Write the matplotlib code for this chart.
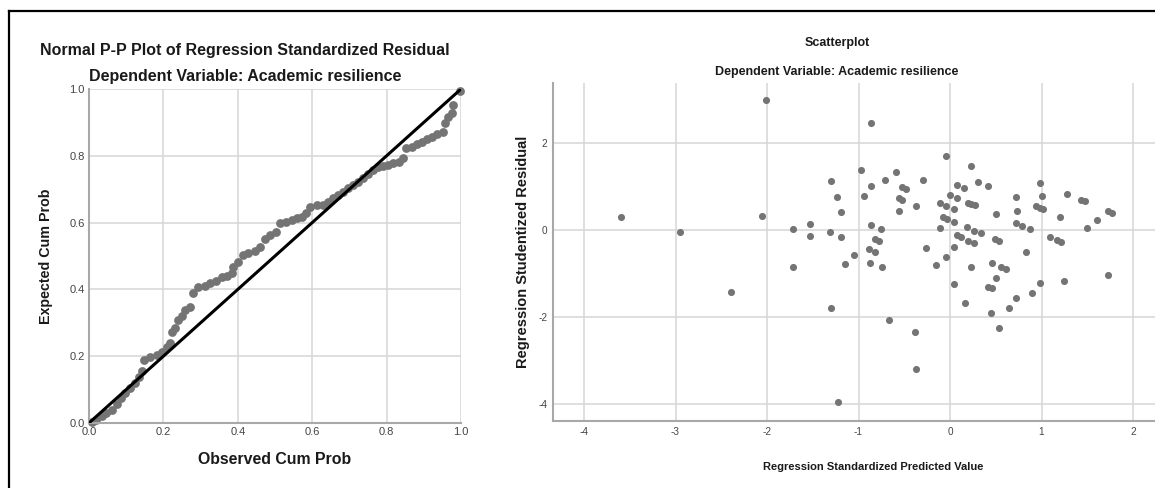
import matplotlib
matplotlib.use("Agg")
import matplotlib.pyplot as plt
from matplotlib.lines import Line2D

# P-P plot: observed vs expected cumulative probability
pp_observed = [0.007, 0.02, 0.034, 0.047, 0.061, 0.074, 0.085, 0.097, 0.11, 0.124,
               0.135, 0.142, 0.148, 0.164, 0.182, 0.195, 0.209, 0.218, 0.222, 0.231,
               0.24, 0.249, 0.258, 0.272, 0.279, 0.294, 0.312, 0.325, 0.341, 0.357,
               0.37, 0.384, 0.388, 0.401, 0.413, 0.428, 0.446, 0.46, 0.473, 0.487,
               0.503, 0.513, 0.53, 0.545, 0.558, 0.572, 0.583, 0.594, 0.612, 0.63,
               0.643, 0.657, 0.67, 0.684, 0.697, 0.711, 0.724, 0.737, 0.751, 0.764,
               0.778, 0.791, 0.805, 0.818, 0.832, 0.845, 0.852, 0.867, 0.881, 0.894,
               0.908, 0.921, 0.935, 0.951, 0.957, 0.966, 0.975, 0.979, 0.997]
pp_expected = [0.004, 0.01, 0.02, 0.03, 0.04, 0.057, 0.074, 0.089, 0.104, 0.12,
               0.139, 0.157, 0.189, 0.199, 0.204, 0.214, 0.229, 0.24, 0.273, 0.283,
               0.308, 0.32, 0.338, 0.348, 0.388, 0.406, 0.41, 0.418, 0.426, 0.436,
               0.44, 0.448, 0.468, 0.483, 0.503, 0.508, 0.516, 0.528, 0.55, 0.563,
               0.573, 0.598, 0.603, 0.608, 0.613, 0.618, 0.628, 0.648, 0.652, 0.653,
               0.663, 0.673, 0.683, 0.693, 0.703, 0.713, 0.723, 0.733, 0.746, 0.757,
               0.765, 0.77, 0.771, 0.777, 0.782, 0.792, 0.824, 0.827, 0.835, 0.842,
               0.849, 0.857, 0.865, 0.871, 0.899, 0.917, 0.927, 0.952, 0.995]

# Scatterplot: standardized predicted value vs studentized residual
pred = [-2.01, -3.60, -2.95, -2.05, -1.72, -1.53, -1.53, -1.72, -2.39,
        -0.86, -0.04, 0.23, -0.97, -0.59, -1.30, -0.71, -0.29, -0.86, -0.52,
        -0.48, 0.08, 0.15, 0.31, 0.42, 0.98, 1.28, 1.43, 1.47, -1.23,
        -0.94, -0.56, -0.52, -0.37, -1.19, -0.56, 0.00, 0.08, -0.11, -0.04,
        0.04, 0.20, 0.23, 0.27, 0.72, 1.01, 0.94, 0.98, 1.02, 0.73,
        0.50, 1.20, 1.73, 1.77, 1.61, 1.50, -0.08, -0.03, 0.04, -0.11,
        -0.86, -0.75, -1.31, -1.19, -0.82, -0.78, 0.19, 0.26, 0.34, 0.08,
        0.12, 0.20, 0.26, 0.49, 0.53, 0.72, 0.79, 0.87, 1.09, 1.17,
        1.21, -0.89, -0.82, -1.05, -0.26, 0.04, 0.83, -1.15, -0.88, -0.74,
        -0.15, -0.04, 0.23, 0.46, 0.56, 0.61, 0.50, 0.04, 0.41, 0.46,
        0.98, 0.90, 1.25, 1.73, 0.72, 0.64, 0.16, 0.45, 0.53, -1.30,
        -0.67, -0.38, -0.37, -1.22]
resid = [2.99, 0.29, -0.05, 0.32, 0.02, 0.14, -0.14, -0.86, -1.43,
         2.47, 1.69, 1.46, 1.37, 1.33, 1.12, 1.16, 1.16, 1.00, 0.98,
         0.94, 1.03, 0.96, 1.10, 1.01, 1.09, 0.83, 0.70, 0.67, 0.76,
         0.77, 0.74, 0.68, 0.55, 0.41, 0.44, 0.80, 0.73, 0.61, 0.54,
         0.48, 0.63, 0.60, 0.57, 0.75, 0.77, 0.54, 0.51, 0.48, 0.44,
         0.37, 0.31, 0.43, 0.38, 0.23, 0.05, 0.29, 0.26, 0.18, 0.04,
         0.12, 0.02, -0.05, -0.16, -0.20, -0.25, 0.06, -0.02, -0.08, -0.12,
         -0.16, -0.25, -0.29, -0.21, -0.25, 0.16, 0.10, 0.02, -0.16, -0.23,
         -0.27, -0.43, -0.50, -0.57, -0.41, -0.39, -0.51, -0.79, -0.75, -0.85,
         -0.80, -0.61, -0.84, -0.75, -0.86, -0.89, -1.10, -1.25, -1.30, -1.33,
         -1.23, -1.44, -1.17, -1.03, -1.56, -1.79, -1.67, -1.91, -2.25, -1.79,
         -2.08, -2.34, -3.20, -3.95]

pp_ticks = [0.0, 0.2, 0.4, 0.6, 0.8, 1.0]
pp_ticklabels = ["0.0", "0.2", "0.4", "0.6", "0.8", "1.0"]
sc_xticks = [-4, -3, -2, -1, 0, 1, 2]
sc_yticks = [-4, -2, 0, 2]

W, H = 1155, 488
REG = ["Liberation Sans", "DejaVu Sans"]
NARROW = ["Liberation Sans Narrow", "Liberation Sans", "DejaVu Sans"]
DOT = "#747474"
GRID = "#d6d6d6"
SPINE = "#a8a8a8"
INK = "#1a1a1a"

plt.rcParams["font.family"] = REG
fig = plt.figure(figsize=(W / 100, H / 100), dpi=100)
fig.set_facecolor("white")


def box(x0, y0, x1, y1):
    # pixel box (from top-left) -> figure fraction rect
    return [x0 / W, 1 - y1 / H, (x1 - x0) / W, (y1 - y0) / H]


# outer frame, only top and left edges visible
fig.add_artist(Line2D([9 / W, 1], [1 - 11 / H, 1 - 11 / H], color="black", lw=1.6))
fig.add_artist(Line2D([9 / W, 9 / W], [0, 1 - 11 / H], color="black", lw=1.6))

# ---- left: Normal P-P plot
ax1 = fig.add_axes(box(89, 89, 461, 423))
ax1.scatter(pp_observed, pp_expected, s=40, color=DOT, zorder=2, clip_on=False, linewidths=0)
ax1.plot([0, 1], [0, 1], color="black", lw=2.2, zorder=3, solid_capstyle="butt")
ax1.set_xlim(0, 1)
ax1.set_ylim(0, 1)
ax1.set_xticks(pp_ticks)
ax1.set_yticks(pp_ticks)
ax1.set_xticklabels(pp_ticklabels)
ax1.set_yticklabels(pp_ticklabels)
ax1.tick_params(length=0, labelsize=8, labelcolor="#444444", pad=3)
ax1.grid(color=GRID, lw=1.1, zorder=0)
ax1.set_axisbelow(True)
for side in ["top", "right"]:
    ax1.spines[side].set_visible(False)
for side in ["left", "bottom"]:
    ax1.spines[side].set_color(SPINE)
    ax1.spines[side].set_linewidth(1.5)

fig.text(245 / W, 1 - 50 / H, "Normal P-P Plot of Regression Standardized Residual",
         ha="center", va="center", fontsize=11.5, fontweight="bold", color=INK)
fig.text(245 / W, 1 - 77 / H, "Dependent Variable: Academic resilience",
         ha="center", va="center", fontsize=11.5, fontweight="bold", color=INK)
fig.text(46 / W, 1 - 256 / H, "Expected Cum Prob", rotation=90,
         ha="center", va="center", fontsize=10.3, fontweight="bold", color=INK)
fig.text(275 / W, 1 - 460 / H, "Observed Cum Prob",
         ha="center", va="center", fontsize=11.4, fontweight="bold", color=INK)

# ---- right: scatterplot
ax2 = fig.add_axes(box(553, 83, 1155, 421))
ax2.scatter(pred, resid, s=26, color=DOT, zorder=2, linewidths=0)
ax2.set_xlim(-4.339, 2.24)
ax2.set_ylim(-4.391, 3.379)
ax2.set_xticks(sc_xticks)
ax2.set_yticks(sc_yticks)
ax2.set_xticklabels([str(v) for v in sc_xticks], family=NARROW)
ax2.set_yticklabels([str(v) for v in sc_yticks], family=NARROW)
ax2.tick_params(length=0, labelsize=7.2, labelcolor="#444444", pad=4)
ax2.grid(color=GRID, lw=1.1, zorder=0)
ax2.set_axisbelow(True)
for side in ["top", "right"]:
    ax2.spines[side].set_visible(False)
for side in ["left", "bottom"]:
    ax2.spines[side].set_color(SPINE)
    ax2.spines[side].set_linewidth(1.5)

fig.text(837 / W, 1 - 43 / H, "Scatterplot", family=NARROW,
         ha="center", va="center", fontsize=9, fontweight="bold", color=INK)
fig.text(837 / W, 1 - 72 / H, "Dependent Variable: Academic resilience", family=NARROW,
         ha="center", va="center", fontsize=9, fontweight="bold", color=INK)
fig.text(523 / W, 1 - 252 / H, "Regression Studentized Residual", rotation=90,
         ha="center", va="center", fontsize=10.5, fontweight="bold", color=INK)
fig.text(873 / W, 1 - 467 / H, "Regression Standardized Predicted Value", family=NARROW,
         ha="center", va="center", fontsize=8, fontweight="bold", color=INK)

fig.savefig("out.png", dpi=100)
